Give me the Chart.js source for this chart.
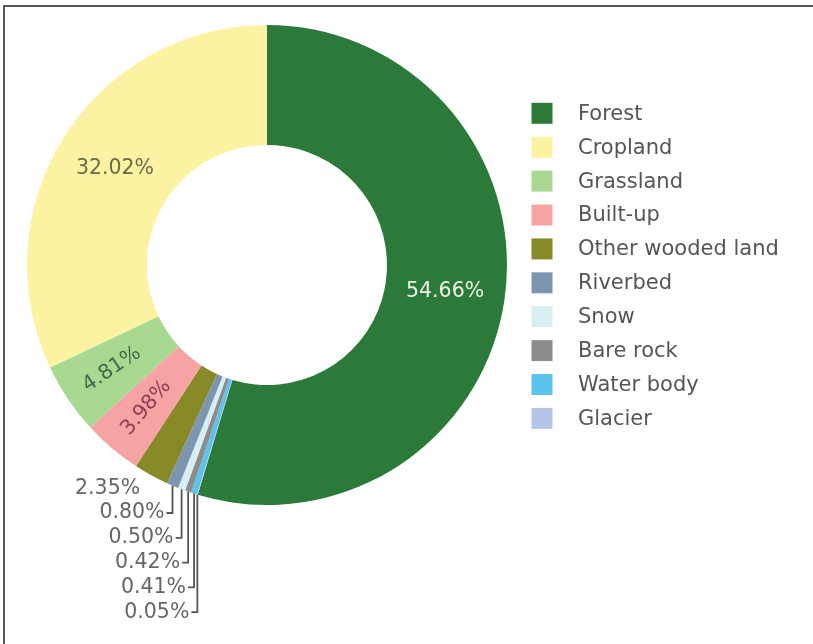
<!DOCTYPE html>
<html>
<head>
<meta charset="utf-8">
<title>Land cover</title>
<script src="https://cdn.jsdelivr.net/npm/chart.js@4.4.1/dist/chart.umd.min.js"></script>
<style>
  html, body { margin: 0; padding: 0; background: #fff; }
  #wrap { position: relative; width: 813px; height: 644px; overflow: hidden; }
  #frame { position: absolute; left: 3px; top: 5px; right: -4px; bottom: -4px; border-top: 2px solid #555; border-left: 2px solid #555; }
  #landCover { position: absolute; left: 0; top: 0; }
</style>
</head>
<body>
<div id="wrap">
  <div id="frame"></div>
  <canvas id="landCover" width="813" height="644"></canvas>
</div>
<script>
// land cover shares, in legend order
const categories = ["Forest", "Cropland", "Grassland", "Built-up", "Other wooded land", "Riverbed", "Snow", "Bare rock", "Water body", "Glacier"];
const shares = [54.66, 32.02, 4.81, 3.98, 2.35, 0.80, 0.50, 0.42, 0.41, 0.05];
const colors = ["#2b7a39", "#fcf3a2", "#a9d991", "#f5a3a3", "#878a26", "#7c96b2", "#d7eef2", "#8c8c8c", "#5cc3ec", "#b3c6e9"];
const textColors = ["#eef3e8", "#6e6a4a", "#44694a", "#8c3e55", "#666", "#666", "#666", "#666", "#666", "#666"];

// slices run clockwise from 12 o'clock: forest first, the rest in reverse
const sliceOrder = [0, 9, 8, 7, 6, 5, 4, 3, 2, 1];

const FONT = 'Verdana, "DejaVu Sans", sans-serif';

const sliceLabels = {
  id: "sliceLabels",
  afterDatasetsDraw(chart) {
    const ctx = chart.ctx;
    const meta = chart.getDatasetMeta(0);
    const outside = [];
    ctx.save();
    ctx.font = "20.5px " + FONT;
    ctx.textBaseline = "middle";
    meta.data.forEach((arc, i) => {
      const k = sliceOrder[i];
      const p = arc.getProps(["x", "y", "startAngle", "endAngle", "innerRadius", "outerRadius"], true);
      const mid = (p.startAngle + p.endAngle) / 2;
      const text = shares[k].toFixed(2) + "%";
      if (shares[k] < 3) {
        outside.push({ k, text, mid,
          ox: p.x + Math.cos(mid) * p.outerRadius,
          oy: p.y + Math.sin(mid) * p.outerRadius });
        return;
      }
      const horizontal = shares[k] > 10;
      const r = (p.innerRadius + p.outerRadius) / 2 + (horizontal ? 0 : 7);
      ctx.save();
      ctx.translate(p.x + Math.cos(mid) * r, p.y + Math.sin(mid) * r);
      if (!horizontal) {
        let rot = mid;
        while (rot > Math.PI / 2) rot -= Math.PI;
        while (rot <= -Math.PI / 2) rot += Math.PI;
        ctx.rotate(rot);
      }
      ctx.fillStyle = textColors[k];
      ctx.textAlign = "center";
      ctx.fillText(text, 0, 0);
      ctx.restore();
    });

    // small slices: stacked labels below the ring with elbow leaders
    outside.sort((a, b) => b.mid - a.mid);
    const firstY = outside.length ? outside[0].oy + 13 : 0;
    ctx.textAlign = "right";
    ctx.strokeStyle = "#555";
    ctx.lineWidth = 1.8;
    outside.forEach((o, n) => {
      const ly = firstY + n * 24.8;
      ctx.fillStyle = textColors[o.k];
      if (n === 0) {
        ctx.fillText(o.text, o.ox - 11, ly);
        return;
      }
      ctx.beginPath();
      ctx.moveTo(o.ox, o.oy);
      ctx.lineTo(o.ox, ly);
      ctx.lineTo(o.ox - 6, ly);
      ctx.stroke();
      ctx.fillText(o.text, o.ox - 8, ly);
    });
    ctx.restore();
  }
};

const legendPanel = {
  id: "legendPanel",
  afterDraw(chart) {
    const ctx = chart.ctx;
    ctx.save();
    ctx.font = "21px " + FONT;
    ctx.textBaseline = "middle";
    ctx.textAlign = "left";
    categories.forEach((name, i) => {
      const cy = 113.3 + i * 33.9;
      ctx.fillStyle = colors[i];
      ctx.fillRect(531.5, cy - 10.5, 21, 21);
      ctx.fillStyle = "#555";
      ctx.fillText(name, 578, cy + 1);
    });
    ctx.restore();
  }
};

new Chart(document.getElementById("landCover"), {
  type: "doughnut",
  data: {
    labels: sliceOrder.map(k => categories[k]),
    datasets: [{
      data: sliceOrder.map(k => shares[k]),
      backgroundColor: sliceOrder.map(k => colors[k]),
      borderWidth: 0
    }]
  },
  options: {
    responsive: false,
    devicePixelRatio: 1,
    animation: false,
    cutout: "50%",
    layout: { padding: { left: 27, top: 25, right: 306, bottom: 139 } },
    plugins: {
      legend: { display: false },
      tooltip: { enabled: false }
    }
  },
  plugins: [sliceLabels, legendPanel]
});
</script>
</body>
</html>
